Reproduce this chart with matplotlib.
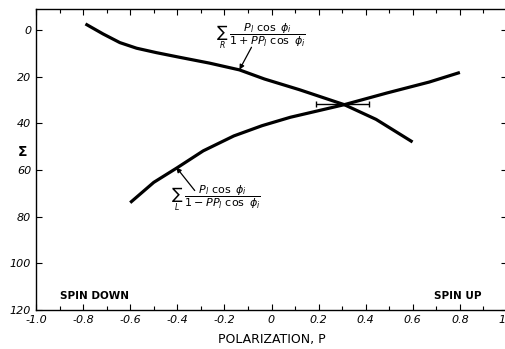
import numpy as np
import matplotlib
matplotlib.use("Agg")
import matplotlib.pyplot as plt
from matplotlib.ticker import MultipleLocator

# Data
p_right = [-0.79, -0.715, -0.644, -0.573, -0.489, -0.39, -0.263, -0.136, -0.03, 0.119, 0.309, 0.444, 0.599]
s_right = [-2.6, 1.7, 5.4, 7.8, 9.7, 11.7, 14.2, 17.1, 21.0, 25.6, 32.0, 38.3, 48.0]

p_left = [-0.60, -0.50, -0.40, -0.29, -0.16, -0.04, 0.08, 0.309, 0.49, 0.67, 0.80]
s_left = [74.0, 65.3, 59.0, 51.8, 45.4, 41.0, 37.4, 32.0, 27.0, 22.3, 18.2]

p_cross = 0.30
s_cross = 31.8
p_err = 0.112

x_ticks = [-1.0, -0.8, -0.6, -0.4, -0.2, 0, 0.2, 0.4, 0.6, 0.8, 1.0]
x_labels = ["-1.0", "-0.8", "-0.6", "-0.4", "-0.2", "0", "0.2", "0.4", "0.6", "0.8", "1.0"]
y_ticks = [0, 20, 40, 60, 80, 100, 120]

fig = plt.figure(figsize=(5.05, 3.49), dpi=100)
ax = fig.add_axes([36 / 505, 1 - 310 / 349, 471 / 505, 301 / 349])

ax.plot(p_right, s_right, color="black", lw=2.3, solid_capstyle="butt", solid_joinstyle="round")
ax.plot(p_left, s_left, color="black", lw=2.3, solid_capstyle="butt", solid_joinstyle="round")
ax.errorbar([p_cross], [s_cross], xerr=[p_err], fmt="none", ecolor="black",
            elinewidth=1.0, capsize=2.5, capthick=1.0)

ax.set_xlim(-1.0, 1.0)
ax.set_ylim(120, -9)
ax.set_xticks(x_ticks)
ax.set_xticklabels(x_labels, fontstyle="italic", fontsize=8)
ax.xaxis.set_minor_locator(MultipleLocator(0.1))
ax.set_yticks(y_ticks)
ax.set_yticklabels([str(v) for v in y_ticks], fontstyle="italic", fontsize=8)

ax.tick_params(which="both", direction="in", top=True, right=True, width=0.8)
ax.tick_params(which="major", length=4)
ax.tick_params(which="minor", length=3)
for s in ax.spines.values():
    s.set_linewidth(1.0)

ax.set_xlabel("POLARIZATION, P", fontsize=9, labelpad=6)
fig.text(22 / 505, 1 - 152 / 349, r"$\mathbf{\Sigma}$", fontsize=10, ha="center", va="center")

# annotations
arrow = dict(arrowstyle="-|>", color="black", lw=0.9, shrinkA=0, shrinkB=0, mutation_scale=7)
ax.text(-0.235, 2.6, r"$\sum_R\ \dfrac{P_l\ \cos\ \phi_i}{1+PP_l\ \cos\ \phi_i}$",
        fontsize=8, ha="left", va="center")
ax.annotate("", xy=(-0.136, 17.0), xytext=(-0.085, 7.4), arrowprops=arrow)

ax.text(-0.425, 72.0, r"$\sum_L\ \dfrac{P_l\ \cos\ \phi_i}{1-PP_l\ \cos\ \phi_i}$",
        fontsize=8, ha="left", va="center")
ax.annotate("", xy=(-0.404, 58.9), xytext=(-0.326, 68.8), arrowprops=arrow)

spin_font = ["Liberation Sans Narrow", "DejaVu Sans"]
ax.text(-0.90, 114, "SPIN DOWN", fontsize=7.5, fontweight="bold", family=spin_font,
        ha="left", va="center")
ax.text(0.69, 114, "SPIN UP", fontsize=7.5, fontweight="bold", family=spin_font,
        ha="left", va="center")

fig.savefig("out.png", dpi=100)
